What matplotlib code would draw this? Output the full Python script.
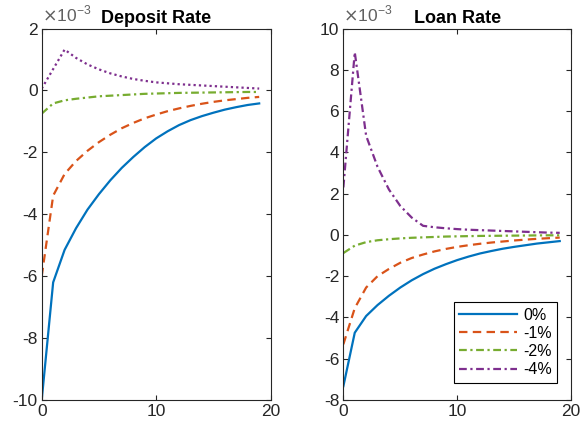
import matplotlib
matplotlib.use("Agg")
import matplotlib.pyplot as plt

plt.rcParams['font.family'] = ['Liberation Sans', 'DejaVu Sans']
plt.rcParams['axes.unicode_minus'] = False

# impulse responses, in units of 1e-3
periods = list(range(20))
labels = ['0%', '-1%', '-2%', '-4%']

deposit_0 = [-10.0, -6.2, -5.15, -4.45, -3.85, -3.35, -2.9, -2.5, -2.15, -1.83,
             -1.55, -1.32, -1.12, -0.96, -0.83, -0.72, -0.62, -0.54, -0.47, -0.42]
deposit_1 = [-6.0, -3.4, -2.7, -2.28, -1.95, -1.67, -1.43, -1.22, -1.05, -0.9,
             -0.78, -0.67, -0.58, -0.5, -0.43, -0.37, -0.32, -0.28, -0.24, -0.21]
deposit_2 = [-0.75, -0.42, -0.32, -0.27, -0.23, -0.19, -0.17, -0.15, -0.13, -0.11,
             -0.1, -0.09, -0.08, -0.075, -0.07, -0.065, -0.06, -0.055, -0.05, -0.05]
deposit_4 = [0.06, 0.69, 1.32, 1.05, 0.84, 0.68, 0.55, 0.45, 0.37, 0.31,
             0.26, 0.23, 0.2, 0.18, 0.16, 0.14, 0.12, 0.1, 0.08, 0.06]

loan_0 = [-7.33, -4.74, -3.93, -3.4, -2.95, -2.55, -2.2, -1.9, -1.64, -1.42,
          -1.22, -1.05, -0.9, -0.78, -0.67, -0.58, -0.5, -0.42, -0.36, -0.3]
loan_1 = [-5.3, -3.55, -2.55, -2.0, -1.65, -1.35, -1.12, -0.95, -0.8, -0.68,
          -0.58, -0.5, -0.43, -0.37, -0.32, -0.27, -0.23, -0.19, -0.16, -0.13]
loan_2 = [-0.88, -0.52, -0.35, -0.26, -0.21, -0.17, -0.14, -0.12, -0.1, -0.08,
          -0.07, -0.06, -0.05, -0.045, -0.04, -0.035, -0.03, -0.025, -0.02, -0.02]
loan_4 = [2.3, 8.85, 4.8, 3.3, 2.2, 1.4, 0.84, 0.44, 0.37, 0.32,
          0.28, 0.25, 0.23, 0.21, 0.19, 0.17, 0.15, 0.13, 0.11, 0.1]

colors = ['#0072BD', '#D95319', '#77AC30', '#7E2F8E']
axis_color = '#262626'
tick_fs = 12.5
title_fs = 13
legend_fs = 11.5

fig = plt.figure(figsize=(5.81, 4.28), dpi=100)
ax1 = fig.add_axes([0.0718, 0.0654, 0.394, 0.868])
ax2 = fig.add_axes([0.591, 0.0654, 0.392, 0.868])

dashed = (0, (3.8, 2.4))
dashdot = (0, (3.5, 1.6, 1.0, 1.6))
dotted = (0, (1.0, 1.4))

lw = 1.6
ax1.plot(periods, deposit_0, color=colors[0], lw=lw, ls='-')
ax1.plot(periods, deposit_1, color=colors[1], lw=lw, ls=dashed)
ax1.plot(periods, deposit_2, color=colors[2], lw=lw, ls=dashdot)
ax1.plot(periods, deposit_4, color=colors[3], lw=lw, ls=dotted)

ax2.plot(periods, loan_0, color=colors[0], lw=lw, ls='-', label=labels[0])
ax2.plot(periods, loan_1, color=colors[1], lw=lw, ls=dashed, label=labels[1])
ax2.plot(periods, loan_2, color=colors[2], lw=lw, ls=dashdot, label=labels[2])
ax2.plot(periods, loan_4, color=colors[3], lw=lw, ls=dashdot, label=labels[3])

ax1.set_ylim(-10, 2)
ax1.set_yticks(range(-10, 3, 2))
ax2.set_ylim(-8, 10)
ax2.set_yticks(range(-8, 11, 2))

for ax, title in ((ax1, 'Deposit Rate'), (ax2, 'Loan Rate')):
    ax.set_xlim(0, 20)
    ax.set_xticks([0, 10, 20])
    ax.tick_params(direction='in', top=True, right=True, length=3.5, width=0.8,
                   colors=axis_color, labelsize=tick_fs, pad=3)
    for sp in ax.spines.values():
        sp.set_color(axis_color)
        sp.set_linewidth(0.8)
    ax.set_title(title, fontsize=title_fs, fontweight='bold', pad=4, color='black')
    ax.text(0.0, 1.01, r'$\times$10$^{\mathregular{-3}}$', transform=ax.transAxes,
            fontsize=tick_fs, color='#606060', ha='left', va='bottom')

leg = ax2.legend(loc='lower right', fontsize=legend_fs, frameon=True, fancybox=False,
                 framealpha=1, edgecolor='black', handlelength=3.6,
                 borderpad=0.35, labelspacing=0.2, handletextpad=0.4,
                 bbox_to_anchor=(0.975, 0.025))
leg.get_frame().set_linewidth(0.8)

fig.savefig('out.png', dpi=100)
